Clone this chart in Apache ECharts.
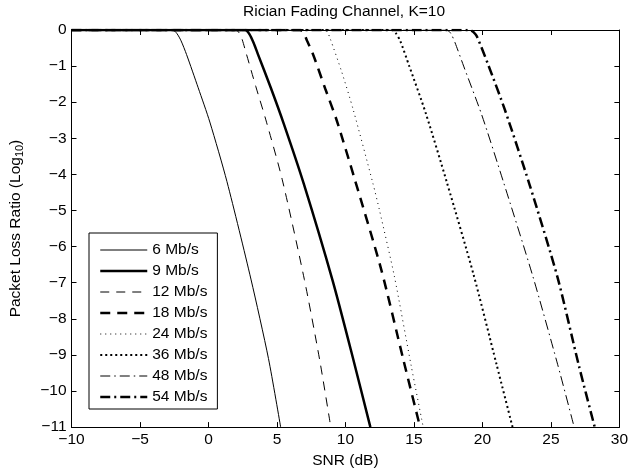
<!DOCTYPE html>
<html>
<head>
<meta charset="utf-8">
<script src="https://cdn.jsdelivr.net/npm/echarts@6/dist/echarts.min.js"></script>
<style>
html,body{margin:0;padding:0;background:#fff;}
#chart{width:631px;height:474px;}
</style>
</head>
<body>
<div id="chart"></div>
<script>
// ---- data (SNR in dB, packet loss ratio in log10) ----
const seriesNames = ['6 Mb/s', '9 Mb/s', '12 Mb/s', '18 Mb/s', '24 Mb/s', '36 Mb/s', '48 Mb/s', '54 Mb/s'];

const snr6  = [-10, -2.6, -2.3, -2.0, -1.6, -0.75, 0.1, 1.35, 3.1, 4.38, 5.27];
const plr6  = [0, 0, -0.1, -0.3, -0.68, -1.6, -2.55, -4.2, -6.9, -9.1, -11];

const snr9  = [-10, 2.7, 3.0, 3.3, 3.6, 4.55, 5.5, 6.95, 9.07, 10.57, 11.82];
const plr9  = [0, 0, -0.12, -0.36, -0.66, -1.6, -2.6, -4.25, -6.95, -9.12, -11];

const snr12 = [-10, 2.0, 2.2, 2.43, 2.75, 3.46, 4.19, 5.39, 7.0, 8.11, 8.93];
const plr12 = [0, 0, -0.06, -0.23, -0.64, -1.57, -2.49, -4.15, -6.91, -9.12, -11];

const snr18 = [-10, 6.7, 6.95, 7.2, 7.68, 8.52, 9.36, 10.69, 12.61, 14.22, 15.45];
const plr18 = [0, 0, -0.08, -0.3, -0.72, -1.62, -2.5, -4.15, -6.63, -9.12, -11];

const snr24 = [-10, 8.5, 8.7, 8.88, 9.72, 10.57, 12.0, 12.49, 13.57, 14.8, 15.68];
const plr24 = [0, 0, -0.07, -0.23, -1.15, -2.21, -4.24, -5.0, -6.82, -9.3, -11];

const snr36 = [-10, 13.4, 13.7, 14.0, 14.66, 15.86, 17.42, 19.35, 21.03, 22.2];
const plr36 = [0, 0, -0.1, -0.3, -1.0, -2.3, -4.24, -6.77, -9.26, -11];

const snr48 = [-10, 17.4, 17.7, 18.0, 18.63, 19.95, 21.52, 23.68, 25.49, 26.7];
const plr48 = [0, 0, -0.1, -0.35, -1.0, -2.35, -4.19, -6.82, -9.26, -11];

const snr54 = [-10, 19.1, 19.35, 19.6, 20.43, 21.64, 23.44, 25.49, 27.05, 28.2];
const plr54 = [0, 0, -0.06, -0.18, -0.97, -2.21, -4.28, -6.86, -9.31, -11];

const xTicks = { min: -10, max: 30, interval: 5 };
const yTicks = { min: -11, max: 0, interval: 1 };

// ---- build ----
const allX = [snr6, snr9, snr12, snr18, snr24, snr36, snr48, snr54];
const allY = [plr6, plr9, plr12, plr18, plr24, plr36, plr48, plr54];

const styles = [
  { width: 1,   type: 'solid' },
  { width: 2.5, type: 'solid' },
  { width: 1,   type: [9, 7] },
  { width: 2.5, type: [10, 7] },
  { width: 1,   type: [1, 4] },
  { width: 2,   type: [2, 3] },
  { width: 1,   type: [10, 4, 1.5, 4] },
  { width: 2.5, type: [10, 4, 2, 4] }
];

const minus = v => (v < 0 ? '\u2212' + Math.abs(v) : String(v));
const FS = 15.5;
const FONT = 'Liberation Sans';

const series = seriesNames.map((name, i) => ({
  name: name,
  type: 'line',
  xAxisIndex: 0,
  yAxisIndex: 0,
  symbol: 'none',
  showSymbol: false,
  smooth: 0.25,
  animation: false,
  data: allX[i].map((x, k) => [x, allY[i][k]]),
  lineStyle: { color: '#000', width: styles[i].width, type: styles[i].type },
  itemStyle: { color: '#000' }
}));

const axisCommon = {
  axisLine: { show: true, onZero: false, lineStyle: { color: '#000', width: 1 } },
  axisTick: { show: true, inside: true, length: 5, lineStyle: { color: '#000', width: 1 } },
  splitLine: { show: false }
};

const chart = echarts.init(document.getElementById('chart'), null, { renderer: 'canvas' });
chart.setOption({
  backgroundColor: '#fff',
  animation: false,
  textStyle: { fontFamily: FONT },
  title: {
    text: 'Rician Fading Channel, K=10',
    left: 243,
    top: 3.4,
    padding: 0,
    textStyle: { fontFamily: FONT, fontSize: FS, fontWeight: 'normal', color: '#000' }
  },
  grid: { left: 68.5, right: 8.5, top: 30, bottom: 46, containLabel: false },
  legend: {
    orient: 'vertical',
    left: 89,
    top: 233,
    padding: [9, 10, 4, 10],
    itemWidth: 47,
    itemHeight: 14,
    itemGap: 5,
    backgroundColor: '#fff',
    borderColor: '#000',
    borderWidth: 1,
    itemStyle: { opacity: 0 },
    lineStyle: { width: 'inherit', type: 'inherit', color: '#000' },
    textStyle: { fontFamily: FONT, fontSize: FS, color: '#000' },
    data: seriesNames
  },
  xAxis: [
    Object.assign({
      type: 'value', position: 'bottom',
      min: xTicks.min, max: xTicks.max, interval: xTicks.interval,
      name: 'SNR (dB)', nameLocation: 'middle', nameGap: 24,
      nameTextStyle: { fontFamily: FONT, fontSize: FS, color: '#000' },
      axisLabel: { show: true, margin: 5, formatter: minus, fontFamily: FONT, fontSize: FS, color: '#000' }
    }, axisCommon),
    Object.assign({
      type: 'value', position: 'top',
      min: xTicks.min, max: xTicks.max, interval: xTicks.interval,
      axisLabel: { show: false }
    }, axisCommon)
  ],
  yAxis: [
    Object.assign({
      type: 'value', position: 'left',
      min: yTicks.min, max: yTicks.max, interval: yTicks.interval,
      name: 'Packet Loss Ratio (Log{s|10})', nameLocation: 'middle', nameGap: 46,
      nameTextStyle: {
        fontFamily: FONT, fontSize: FS, color: '#000',
        rich: { s: { fontFamily: FONT, fontSize: 11, color: '#000', padding: [8, 0, 0, 0] } }
      },
      axisLabel: { show: true, margin: 5, formatter: minus, fontFamily: FONT, fontSize: FS, color: '#000' }
    }, axisCommon),
    Object.assign({
      type: 'value', position: 'right',
      min: yTicks.min, max: yTicks.max, interval: yTicks.interval,
      axisLabel: { show: false }
    }, axisCommon)
  ],
  series: series
});
</script>
</body>
</html>
